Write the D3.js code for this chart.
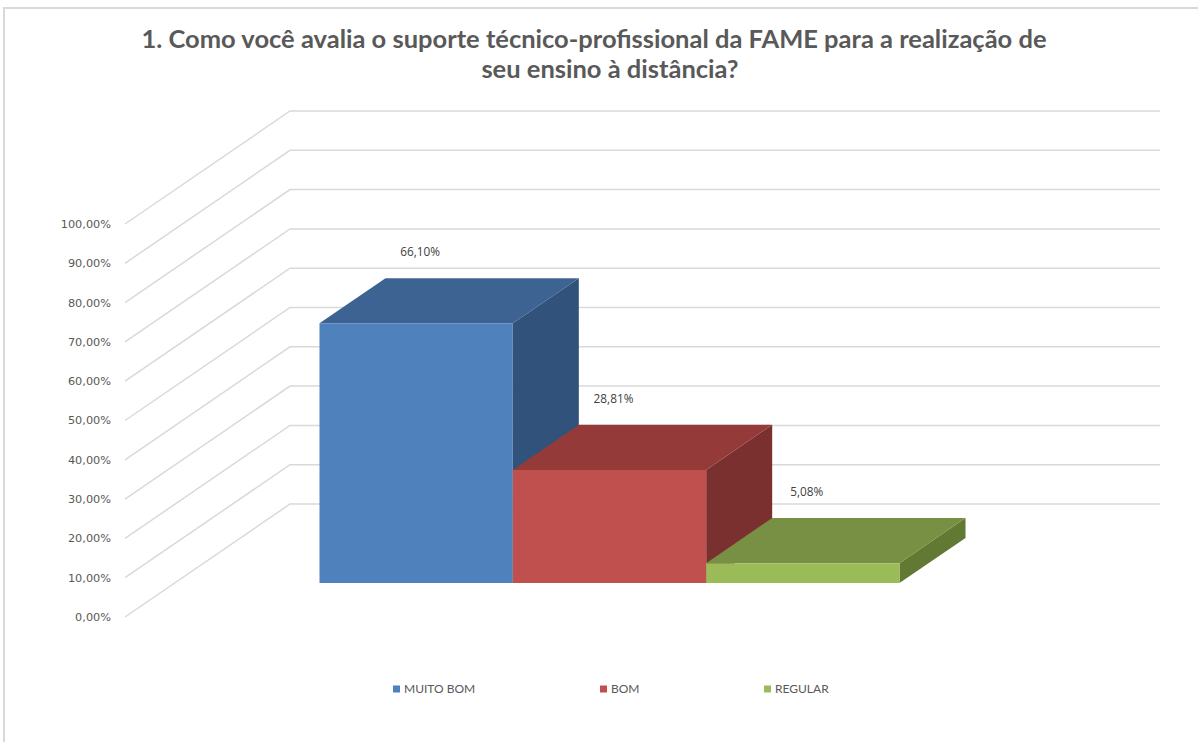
<!DOCTYPE html>
<html>
<head>
<meta charset="utf-8">
<script src="https://cdn.jsdelivr.net/npm/d3@7"></script>
<style>
  html, body { margin: 0; padding: 0; background: #fff; }
  svg { display: block; }
</style>
</head>
<body>
<svg id="chart" width="1198" height="742"></svg>
<script>
// Survey answers
const seriesNames = ["MUITO BOM", "BOM", "REGULAR"];
const seriesValues = [0.6610, 0.2881, 0.0508];
const valueLabels = ["66,10%", "28,81%", "5,08%"];

// Value axis
const tickValues = [0, 0.1, 0.2, 0.3, 0.4, 0.5, 0.6, 0.7, 0.8, 0.9, 1.0];
const tickLabels = ["0,00%", "10,00%", "20,00%", "30,00%", "40,00%", "50,00%",
                    "60,00%", "70,00%", "80,00%", "90,00%", "100,00%"];

// Face colours per series
const frontColors = ["#4F81BD", "#C0504D", "#9BBB59"];
const topColors   = ["#3C6391", "#943B39", "#779044"];
const sideColors  = ["#31527A", "#7A302F", "#627934"];

const titleLines = [
  "1. Como você avalia o suporte técnico-profissional da FAME para a realização de",
  "seu ensino à distância?"
];

const svg = d3.select("#chart");

// Outer frame
svg.append("path")
  .attr("d", "M4,742 L4,8 L1198,8")
  .attr("fill", "none")
  .attr("stroke", "#d9d9d9")
  .attr("stroke-width", 2);

// Title
svg.append("g").selectAll("text")
  .data(titleLines)
  .join("text")
  .attr("x", (d, i) => i === 0 ? 594 : 610)
  .attr("y", (d, i) => 48 + i * 30)
  .attr("text-anchor", "middle")
  .attr("font-family", "Lato, 'Open Sans', sans-serif")
  .attr("font-weight", "bold")
  .attr("font-size", 25.5)
  .attr("fill", "#595959")
  .text(d => d);

// Oblique 3D projection: front plane plus a depth vector
const plotLeft = 125, plotRight = 995;
const depthX = 165, depthY = -113;
const y = d3.scaleLinear().domain([0, 1]).range([617, 224]);
const x = d3.scaleBand()
  .domain(seriesNames)
  .range([plotLeft, plotRight])
  .paddingInner(0)
  .paddingOuter(0.75);
const proj = (px, v, d) => [px + d * depthX, y(v) + d * depthY];

// Side wall and back wall gridlines
const grid = svg.append("g")
  .attr("fill", "none")
  .attr("stroke", "#d9d9d9")
  .attr("stroke-width", 1.5);
tickValues.forEach(t => {
  const a = proj(plotLeft, t, 0), b = proj(plotLeft, t, 1), c = proj(plotRight, t, 1);
  grid.append("path").attr("d", d3.line()([a, b, c]));
});

// Value axis labels
svg.append("g").selectAll("text")
  .data(tickValues)
  .join("text")
  .attr("x", plotLeft - 14)
  .attr("y", d => y(d))
  .attr("dy", "0.35em")
  .attr("text-anchor", "end")
  .attr("font-family", "'DejaVu Sans', sans-serif")
  .attr("font-size", 11.3)
  .attr("fill", "#595959")
  .text((d, i) => tickLabels[i]);

// Bars occupy the middle of the depth
const d0 = 0.3, d1 = 0.7;
const bars = svg.append("g");
seriesNames.forEach((name, i) => {
  const v = seriesValues[i];
  const xl = x(name), xr = x(name) + x.bandwidth();
  const g = bars.append("g");
  const poly = pts => "M" + pts.map(p => p.join(",")).join("L") + "Z";
  // right side
  g.append("path")
    .attr("d", poly([proj(xr, v, d0), proj(xr, v, d1), proj(xr, 0, d1), proj(xr, 0, d0)]))
    .attr("fill", sideColors[i]);
  // top
  g.append("path")
    .attr("d", poly([proj(xl, v, d0), proj(xr, v, d0), proj(xr, v, d1), proj(xl, v, d1)]))
    .attr("fill", topColors[i]);
  // front
  g.append("path")
    .attr("d", poly([proj(xl, v, d0), proj(xr, v, d0), proj(xr, 0, d0), proj(xl, 0, d0)]))
    .attr("fill", frontColors[i]);
});

// Value labels above each bar
svg.append("g").selectAll("text")
  .data(seriesNames)
  .join("text")
  .attr("x", (d, i) => proj(x(d) + x.bandwidth() / 2, seriesValues[i], d0)[0] + 4)
  .attr("y", (d, i) => proj(x(d), seriesValues[i], d0)[1] - 71)
  .attr("dy", "0.35em")
  .attr("text-anchor", "middle")
  .attr("font-family", "'Open Sans', sans-serif")
  .attr("font-size", 11.8)
  .attr("fill", "#404040")
  .text((d, i) => valueLabels[i]);

// Legend
const legendX = [393, 600, 764];
const legend = svg.append("g").selectAll("g")
  .data(seriesNames)
  .join("g")
  .attr("transform", (d, i) => `translate(${legendX[i]},689)`);
legend.append("rect")
  .attr("x", 0).attr("y", -3.5)
  .attr("width", 7).attr("height", 7)
  .attr("fill", (d, i) => frontColors[i]);
legend.append("text")
  .attr("x", 11)
  .attr("y", 0)
  .attr("dy", "0.35em")
  .attr("font-family", "Lato, 'Open Sans', sans-serif")
  .attr("font-size", 12)
  .attr("fill", "#595959")
  .text(d => d);
</script>
</body>
</html>
